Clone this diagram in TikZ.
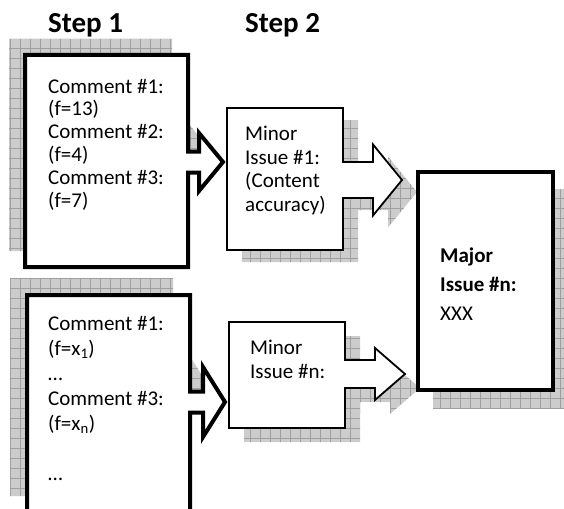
\documentclass[tikz,border=0pt]{standalone}
\usepackage{fontspec}
\setmainfont{Carlito}
\usepackage{tikz}
\usetikzlibrary{patterns.meta}

% box outline with a block arrow on its right side
% (#1,#2) top left, (#3,#4) bottom right, #5 arrow axis,
% #6 half neck, #7 half head, #8 neck end, #9 tip
\newcommand{\arrowbox}[9]{%
  (#1,#2) -- (#3,#2) -- (#3,#5-#6) -- (#8,#5-#6) -- (#8,#5-#7)
  -- (#9,#5) -- (#8,#5+#7) -- (#8,#5+#6) -- (#3,#5+#6) -- (#3,#4)
  -- (#1,#4) -- cycle}

\begin{document}
\begin{tikzpicture}[
    x=1pt, y=-1pt,
    heavy/.style={draw=black, line width=4pt, fill=white, line join=miter},
    light/.style={draw=black, line width=1.8pt, fill=white, line join=miter},
    drop/.style={fill=gray!40,
                 postaction={pattern={Hatch[angle=0, distance=10pt, line width=0.6pt]},
                             pattern color=gray!75}},
    label/.style={font=\fontsize{29}{34}\selectfont\bfseries,
                  anchor=base west, inner sep=0pt},
    % anchored at the baseline of the last line
    body/.style={align=left, anchor=base west, inner sep=0pt}
  ]
  \useasboundingbox (0,0) rectangle (564,508);

  % headings
  \node[label] (step1) at (48,33) {Step 1};
  \node[label] (step2) at (245,33) {Step 2};

  % shadows
  \fill[drop, shift={(-16,-16)}] \arrowbox{25}{55}{188}{267}{162}{10.5}{29}{199}{223};
  \fill[drop, shift={(-17,-17)}] \arrowbox{27}{295}{190}{513}{402}{10.5}{35}{203}{225};
  \fill[drop, shift={(15,12)}] \arrowbox{227}{108}{343}{250}{180}{18}{35.5}{373}{402};
  \fill[drop, shift={(15,14)}] \arrowbox{229}{322}{345}{428}{374}{14}{26}{375}{405};
  \fill[drop] (433,189) rectangle (570,408);

  % comment boxes
  \filldraw[heavy] \arrowbox{25}{55}{188}{267}{162}{10.5}{29}{199}{223};
  \filldraw[heavy] \arrowbox{27}{295}{190}{513}{402}{10.5}{35}{203}{225};

  % minor issues
  \filldraw[light] \arrowbox{227}{108}{343}{250}{180}{18}{35.5}{373}{402};
  \filldraw[light] \arrowbox{229}{322}{345}{428}{374}{14}{26}{375}{405};

  % major issue
  \filldraw[heavy] (418,172) rectangle (553,390);

  % texts
  \node[body, font=\fontsize{21}{22.8}\selectfont] (com1) at (48,207)
    {Comment \#1:\\(f=13)\\Comment \#2:\\(f=4)\\Comment \#3:\\(f=7)};
  \node[body, font=\fontsize{21}{25}\selectfont] (com2) at (48,480)
    {Comment \#1:\\(f=x\textsubscript{1})\\…\\Comment \#3:\\(f=x\textsubscript{n})\\[25pt]…};
  \node[body, font=\fontsize{21}{23.5}\selectfont] (minor1) at (245,211)
    {Minor\\Issue \#1:\\(Content\\accuracy)};
  \node[body, font=\fontsize{21}{24}\selectfont] (minor2) at (250,378)
    {Minor\\Issue \#n:};
  \node[body, font=\fontsize{21}{29}\selectfont] (major) at (440,320)
    {\textbf{Major}\\\textbf{Issue \#n:}\\XXX};
\end{tikzpicture}
\end{document}
